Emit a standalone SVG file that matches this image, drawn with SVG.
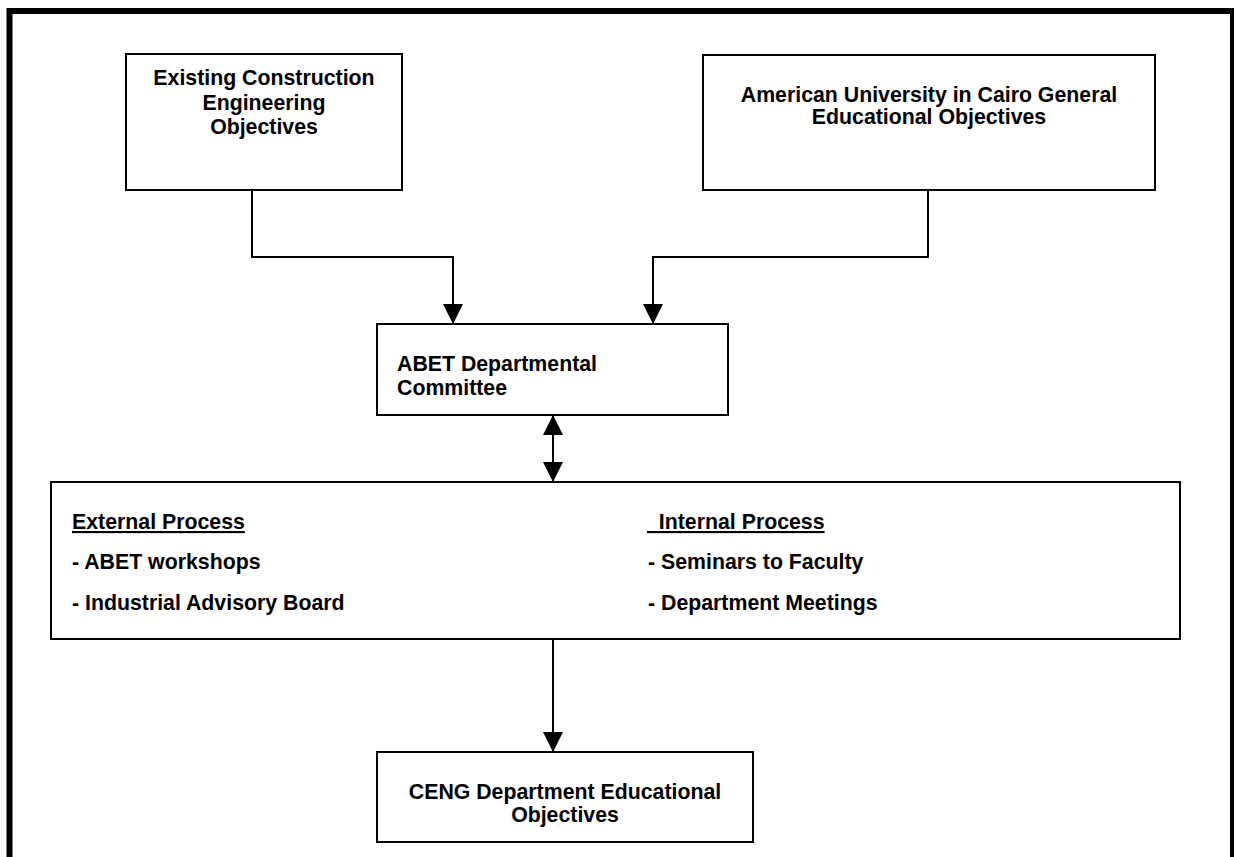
<svg xmlns="http://www.w3.org/2000/svg" width="1234" height="857" viewBox="0 0 1234 857">
<style>
.box{fill:#fff;stroke:#000;stroke-width:2}
.t{font-family:"Liberation Sans",Arial,sans-serif;font-weight:bold;font-size:21.3px;fill:#000}
.c{text-anchor:middle}
.ln{fill:none;stroke:#000;stroke-width:2}
</style>
<defs>
<marker id="arr" viewBox="0 0 20 20" refX="20" refY="10" markerWidth="20" markerHeight="20" markerUnits="userSpaceOnUse" orient="auto-start-reverse">
<path d="M0,0 L20,10 L0,20 z" fill="#000"/>
</marker>
</defs>
<rect x="0" y="0" width="1234" height="857" fill="#fff"/>
<rect id="frame" x="9.5" y="11" width="1223.5" height="900" fill="none" stroke="#000" stroke-width="6"/>
<g id="connectors">
<path class="ln" d="M252,190 V257 H453 V324" marker-end="url(#arr)"/>
<path class="ln" d="M928,190 V257 H653 V324" marker-end="url(#arr)"/>
<path class="ln" d="M553,415 V482" marker-start="url(#arr)" marker-end="url(#arr)"/>
<path class="ln" d="M553,639 V752" marker-end="url(#arr)"/>
</g>
<g id="existing">
<rect class="box" x="126" y="54" width="276" height="136"/>
<text class="t c" x="264" y="85">Existing Construction</text>
<text class="t c" x="264" y="110">Engineering</text>
<text class="t c" x="264" y="134">Objectives</text>
</g>
<g id="auc">
<rect class="box" x="703" y="55" width="452" height="135"/>
<text class="t c" x="929" y="102">American University in Cairo General</text>
<text class="t c" x="929" y="124">Educational Objectives</text>
</g>
<g id="abet">
<rect class="box" x="377" y="324" width="351" height="91"/>
<text class="t" x="397" y="371">ABET Departmental</text>
<text class="t" x="397" y="395">Committee</text>
</g>
<g id="process">
<rect class="box" x="51" y="482" width="1129" height="157"/>
<text class="t" x="72" y="529" text-decoration="underline">External Process</text>
<text class="t" x="72" y="569">- ABET workshops</text>
<text class="t" x="72" y="610">- Industrial Advisory Board</text>
<text class="t" x="647" y="529" text-decoration="underline" xml:space="preserve">  Internal Process</text>
<text class="t" x="648" y="569">- Seminars to Faculty</text>
<text class="t" x="648" y="610">- Department Meetings</text>
</g>
<g id="ceng">
<rect class="box" x="377" y="752" width="376" height="90"/>
<text class="t c" x="565" y="799">CENG Department Educational</text>
<text class="t c" x="565" y="822">Objectives</text>
</g>
</svg>
